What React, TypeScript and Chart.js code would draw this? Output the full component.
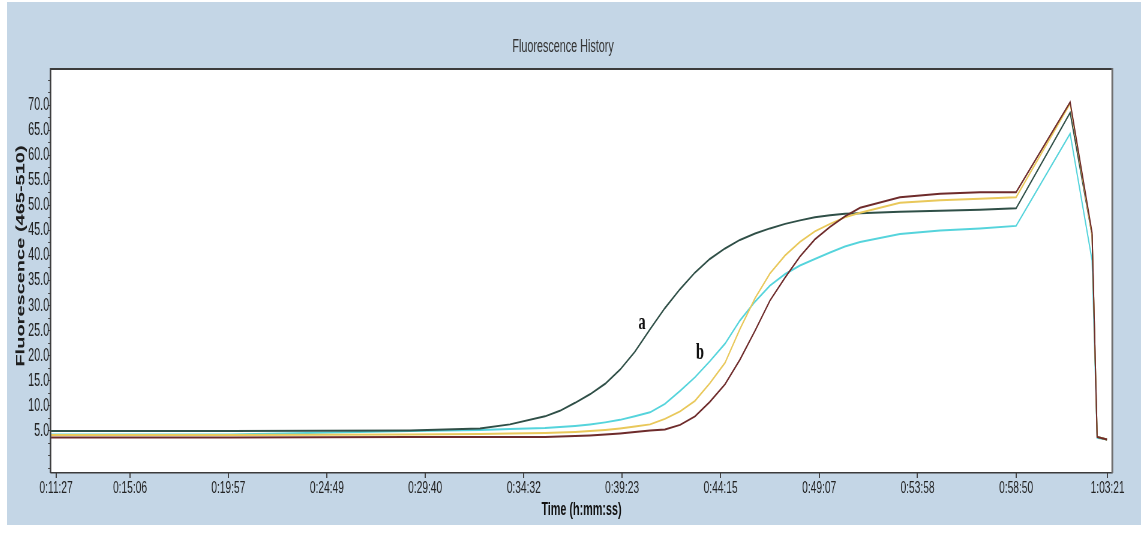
import React, { useEffect, useRef } from 'react';
import { Chart, registerables } from 'chart.js';

Chart.register(...registerables);

// ---------- data ----------
const xTickLabels = ['0:11:27', '0:15:06', '0:19:57', '0:24:49', '0:29:40', '0:34:32', '0:39:23', '0:44:15', '0:49:07', '0:53:58', '0:58:50', '1:03:21'];
const yMajorTicks = [5, 10, 15, 20, 25, 30, 35, 40, 45, 50, 55, 60, 65, 70];
const yMinorTicks = [-2.5, 0, 2.5, 7.5, 12.5, 17.5, 22.5, 27.5, 32.5, 37.5, 42.5, 47.5, 52.5, 57.5, 62.5, 67.5, 72.5, 75];

// time of each reading, seconds
const timeSeconds = [672, 1202, 1735, 1942, 2031, 2135, 2179, 2224, 2268, 2313, 2357, 2401, 2446, 2490, 2535, 2579, 2623, 2668, 2712, 2757, 2801, 2846, 2890, 2934, 2979, 3023, 3068, 3186, 3305, 3423, 3530, 3690, 3755, 3770, 3799];

const sampleA = [5.0, 5.0, 5.1, 5.5, 6.3, 7.9, 9.0, 10.6, 12.3, 14.4, 17.2, 20.8, 25.3, 29.5, 33.3, 36.6, 39.3, 41.4, 43.1, 44.4, 45.4, 46.3, 47.0, 47.6, 48.0, 48.3, 48.4, 48.7, 48.9, 49.1, 49.4, 68.5, 44.0, 3.8, 3.3];
const sampleB = [4.3, 4.3, 5.0, 5.2, 5.4, 5.6, 5.8, 6.0, 6.3, 6.7, 7.2, 7.9, 8.7, 10.4, 13.0, 15.7, 18.9, 22.4, 27.0, 30.8, 34.0, 36.3, 38.0, 39.3, 40.6, 41.8, 42.7, 44.3, 45.0, 45.4, 45.9, 64.3, 39.0, 3.6, 3.3];
const sampleYellow = [4.2, 4.2, 4.3, 4.4, 4.5, 4.6, 4.7, 4.8, 5.0, 5.2, 5.5, 5.9, 6.3, 7.4, 8.9, 11.0, 14.5, 18.6, 25.3, 31.5, 36.4, 40.0, 42.7, 44.8, 46.3, 47.6, 48.5, 50.5, 51.0, 51.3, 51.6, 70.3, 44.0, 3.8, 3.3];
const sampleMaroon = [3.7, 3.7, 3.8, 3.8, 3.8, 3.8, 3.9, 4.0, 4.1, 4.3, 4.5, 4.8, 5.1, 5.3, 6.2, 7.9, 10.8, 14.3, 19.2, 25.0, 31.0, 35.6, 39.8, 43.2, 45.7, 47.8, 49.5, 51.6, 52.3, 52.6, 52.6, 70.6, 44.5, 3.8, 3.3];

// curve annotations: [label, time (s), fluorescence]
const annotations: [string, number, number][] = [
  ['a', 2422, 26.5],
  ['b', 2594, 20.5],
];

// ---------- layout ----------
const SQ = 0.6; // the original picture is squeezed horizontally
const CSS_W = 1134;
const CSS_H = 523;
const BMP_W = Math.round(CSS_W / SQ);
const bx = (cssX: number) => cssX / SQ;

const toSeconds = (s: string) => {
  const [h, m, sec] = s.split(':').map(Number);
  return h * 3600 + m * 60 + sec;
};
const xTickSeconds = xTickLabels.map(toSeconds);
const yTickValues = [...yMinorTicks, ...yMajorTicks].sort((a, b) => a - b);

const SANS = '"Liberation Sans", Arial, sans-serif';

const decor = {
  id: 'decor',
  beforeDatasetsDraw(chart: any) {
    const { ctx, chartArea: a } = chart;
    ctx.save();
    ctx.fillStyle = '#ffffff';
    ctx.fillRect(a.left, a.top, a.right - a.left, a.bottom - a.top);
    ctx.restore();
  },
  afterDraw(chart: any) {
    const { ctx, chartArea: a } = chart;
    ctx.save();
    // frame
    ctx.fillStyle = '#3c3c3c';
    ctx.fillRect(a.left - 1, a.top - 1, a.right - a.left + 2, 2);
    ctx.fillRect(a.left - 1, a.bottom - 1, a.right - a.left + 2, 1.5);
    ctx.fillRect(a.left - 2, a.top - 1, 2.5, a.bottom - a.top + 1);
    ctx.fillStyle = '#6f6f6f';
    ctx.fillRect(a.right - 1, a.top - 1, 3, a.bottom - a.top + 1);

    // chart title
    ctx.fillStyle = '#333333';
    ctx.font = `18px ${SANS}`;
    ctx.textAlign = 'center';
    ctx.textBaseline = 'middle';
    ctx.fillText('Fluorescence History', bx(556), 45);

    // y axis title
    ctx.save();
    ctx.translate(bx(14), 254);
    ctx.rotate(-Math.PI / 2);
    ctx.fillStyle = '#1e1e1e';
    ctx.font = `bold 20px ${SANS}`;
    ctx.fillText('Fluorescence (465-510)', 0, 0);
    ctx.restore();

    // curve labels
    const xs = chart.scales.x;
    const ys = chart.scales.y;
    ctx.fillStyle = '#111111';
    ctx.font = 'bold 24px "Liberation Serif", "Times New Roman", serif';
    annotations.forEach(([t, x, y]) => {
      ctx.fillText(t, xs.getPixelForValue(x), ys.getPixelForValue(y));
    });
    ctx.restore();
  },
};

const mk = (label: string, values: number[], color: string) => ({
  label,
  data: timeSeconds.map((t, i) => ({ x: t, y: values[i] })),
  borderColor: color,
  backgroundColor: color,
  borderWidth: 2,
  pointRadius: 0,
  tension: 0,
  fill: false,
});

export default function App() {
  const ref = useRef<HTMLCanvasElement | null>(null);

  useEffect(() => {
    if (!ref.current) return;
    const chart = new Chart(ref.current, {
      type: 'line',
      data: {
        datasets: [
          mk('maroon', sampleMaroon, '#6e2b2b'),
          mk('yellow', sampleYellow, '#e9c85a'),
          mk('a', sampleA, '#2f4f47'),
          mk('b', sampleB, '#55d4dc'),
        ],
      },
      options: {
        responsive: false,
        devicePixelRatio: 1,
        animation: false,
        layout: { padding: { left: 0, right: bx(29), top: 67, bottom: 0 } },
        plugins: {
          legend: { display: false },
          tooltip: { enabled: false },
          title: { display: false },
        },
        scales: {
          x: {
            type: 'linear',
            min: 672,
            max: 3814,
            afterBuildTicks: (s: any) => {
              s.ticks = xTickSeconds.map((v) => ({ value: v }));
            },
            afterFit: (s: any) => {
              s.height = 52;
            },
            border: { display: false },
            grid: { drawOnChartArea: false, drawTicks: true, tickLength: 5, color: '#444444', lineWidth: 2 },
            ticks: {
              autoSkip: false,
              maxRotation: 0,
              minRotation: 0,
              padding: 0,
              color: '#222222',
              font: { family: SANS, size: 17 },
              callback: (_v: any, i: number) => xTickLabels[i],
            },
            title: {
              display: true,
              text: 'Time (h:mm:ss)',
              color: '#111111',
              font: { family: SANS, size: 18, weight: 'bold' },
              padding: { top: 0, bottom: 4 },
            },
          },
          y: {
            type: 'linear',
            min: -3.4,
            max: 77.2,
            afterBuildTicks: (s: any) => {
              s.ticks = yTickValues.map((v) => ({ value: v }));
            },
            afterFit: (s: any) => {
              s.width = bx(44);
            },
            border: { display: false },
            grid: { drawOnChartArea: false, drawTicks: true, tickLength: 5, color: '#444444', lineWidth: 1 },
            ticks: {
              autoSkip: false,
              padding: -2,
              color: '#222222',
              font: { family: SANS, size: 18 },
              callback: (v: any) => (yMajorTicks.includes(Number(v)) ? Number(v).toFixed(1) : ''),
            },
          },
        },
      },
      plugins: [decor],
    } as any);
    return () => chart.destroy();
  }, []);

  return (
    <div
      style={{
        position: 'absolute',
        left: 7,
        top: 2,
        width: CSS_W,
        height: CSS_H,
        background: '#c4d6e6',
        overflow: 'hidden',
      }}
    >
      <canvas
        ref={ref}
        width={BMP_W}
        height={CSS_H}
        style={{ width: `${CSS_W}px`, height: `${CSS_H}px`, display: 'block' }}
      />
    </div>
  );
}
